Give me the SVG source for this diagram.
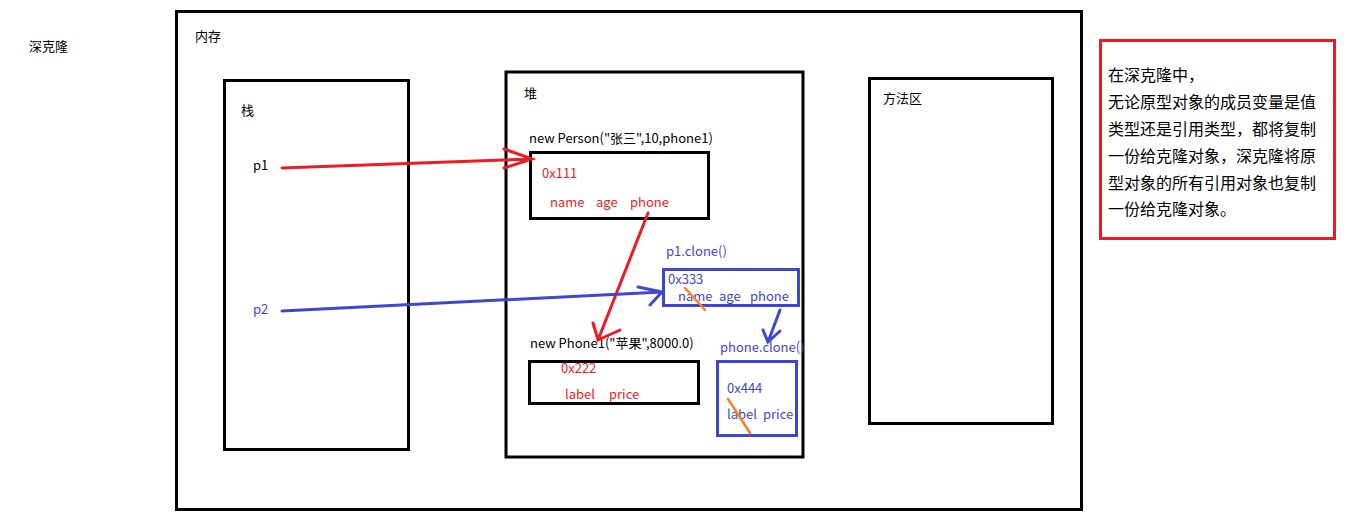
<svg xmlns="http://www.w3.org/2000/svg" width="1360" height="531" viewBox="0 0 1360 531">
<style>
text{font-family:"Noto Sans CJK SC","Microsoft YaHei",sans-serif;font-size:13px;fill:#000}
.box{fill:none;stroke:#000;stroke-width:3}
.bbox{fill:none;stroke:#3f48cc;stroke-width:3}
.red{fill:#ed1c24}
.blue{fill:#3f48cc}
.rl{fill:none;stroke:#ed1c24;stroke-width:3;stroke-linecap:round}
.bl{fill:none;stroke:#3f48cc;stroke-width:3;stroke-linecap:round}
.ol{fill:none;stroke:#ff7f27;stroke-width:2.5;stroke-linecap:round}
.note{font-size:16px}
</style>
<rect width="1360" height="531" fill="#fff"/>
<g id="title"><text x="29" y="51">深克隆</text></g>
<g id="memory">
<rect class="box" x="176.5" y="11.5" width="905" height="498"/>
<text x="195" y="41">内存</text>
</g>
<g id="stack">
<rect class="box" x="224.5" y="80.5" width="184" height="369"/>
<text x="241" y="115">栈</text>
<text x="253" y="170">p1</text>
<text x="253" y="314" class="blue">p2</text>
</g>
<g id="heap">
<rect class="box" x="506" y="72" width="297" height="385"/>
<text x="524" y="98">堆</text>
</g>
<g id="person">
<text x="529" y="143">new Person("张三",10,phone1)</text>
<rect class="box" x="530.5" y="152.5" width="178" height="66"/>
<text x="542" y="178" class="red">0x111</text>
<text x="550" y="207" class="red">name</text>
<text x="596" y="207" class="red">age</text>
<text x="630" y="207" class="red">phone</text>
</g>
<g id="personClone">
<text x="666" y="256" class="blue">p1.clone()</text>
<rect class="bbox" x="663.5" y="269.5" width="135" height="36"/>
<text x="668" y="284" class="blue">0x333</text>
<text x="678" y="301" class="blue">name</text>
<text x="719" y="301" class="blue">age</text>
<text x="750" y="301" class="blue">phone</text>
</g>
<g id="phone">
<text x="530" y="348">new Phone1("苹果",8000.0)</text>
<rect class="box" x="529.5" y="361.5" width="169" height="42"/>
<text x="561" y="373" class="red">0x222</text>
<text x="565" y="399" class="red">label</text>
<text x="609" y="399" class="red">price</text>
</g>
<g id="phoneClone">
<text x="720" y="352" class="blue">phone.clone()</text>
<rect class="bbox" x="717.5" y="361.5" width="79" height="74"/>
<text x="727" y="393" class="blue">0x444</text>
<text x="727" y="419" class="blue">label</text>
<text x="763" y="419" class="blue">price</text>
</g>
<g id="methodArea">
<rect class="box" x="869.5" y="78.5" width="183" height="345"/>
<text x="883" y="103">方法区</text>
</g>
<g id="note">
<rect x="1100.5" y="40.5" width="234" height="198" fill="none" stroke="#ed1c24" stroke-width="3"/>
<text class="note" x="1108" y="81">在深克隆中，</text>
<text class="note" x="1108" y="108">无论原型对象的成员变量是值</text>
<text class="note" x="1108" y="135">类型还是引用类型，都将复制</text>
<text class="note" x="1108" y="162">一份给克隆对象，深克隆将原</text>
<text class="note" x="1108" y="189">型对象的所有引用对象也复制</text>
<text class="note" x="1108" y="215">一份给克隆对象。</text>
</g>
<g id="connectors">
<path class="rl" d="M282 168 L532 159 M504 149 L532 159 L504 168"/>
<path class="rl" d="M648 213 L598 340 M593 323 L598 340 L620 330"/>
<path class="bl" d="M282 311 L662 292 M638 287 L662 292 L650 305"/>
<path class="bl" d="M780 310 L768 342 M763 330 L768 342 L780 331"/>
<path class="ol" d="M685 288 L705 310"/>
<path class="ol" d="M728 399 L750 433"/>
</g>
</svg>
